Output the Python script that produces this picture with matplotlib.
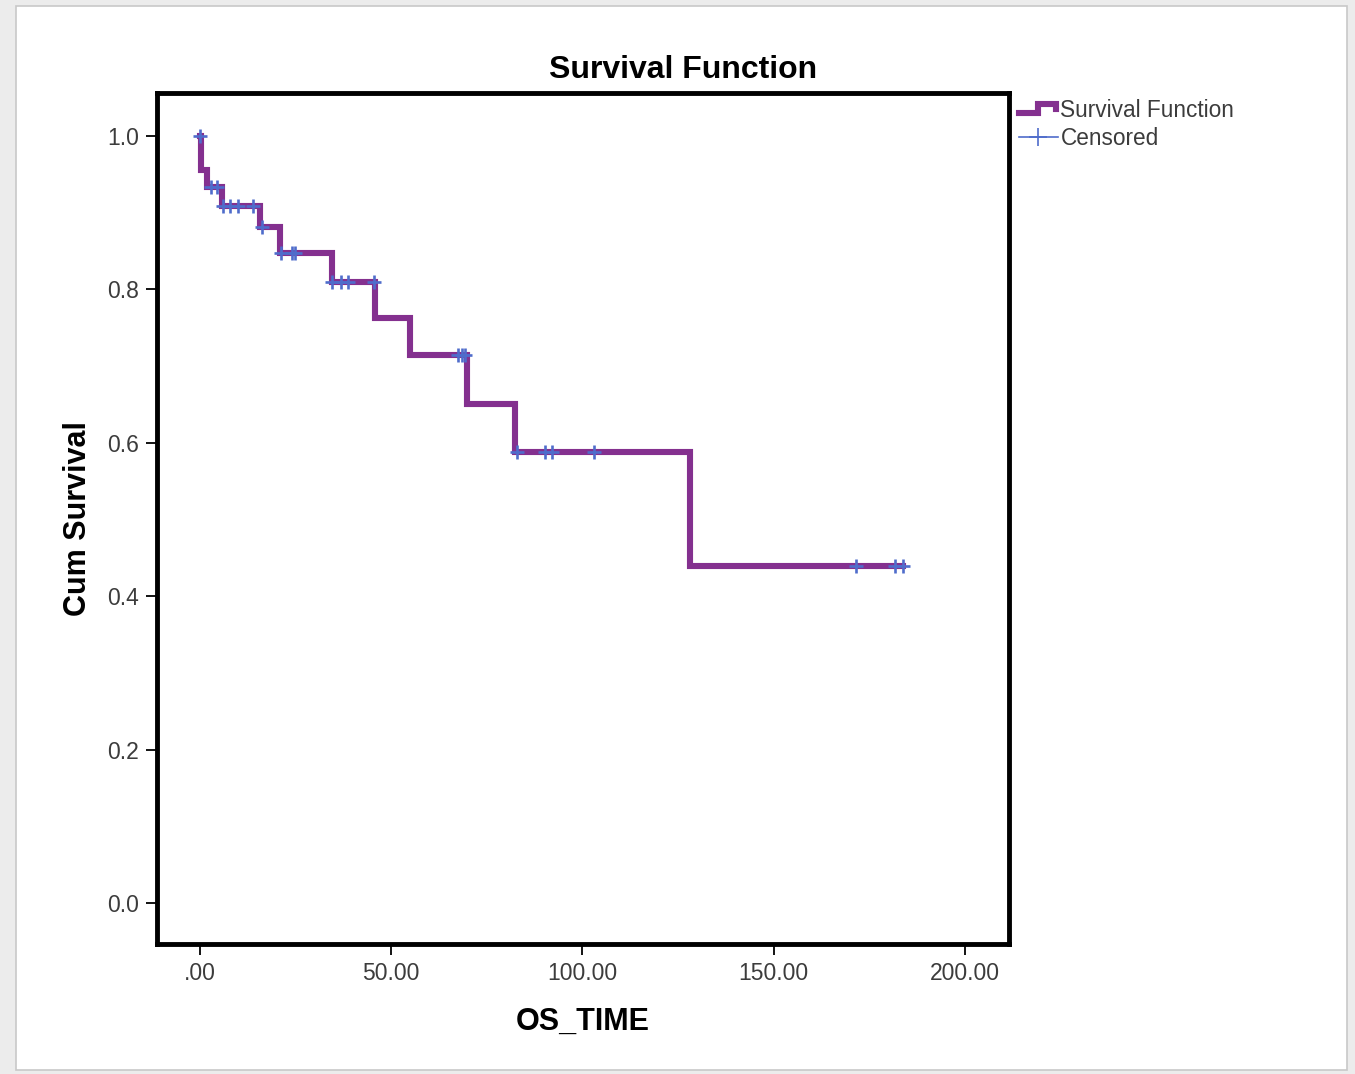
"""Kaplan-Meier survival curve for overall survival time (OS_TIME)."""

import matplotlib

matplotlib.use("Agg")

import matplotlib.pyplot as plt
import numpy as np
from matplotlib.legend_handler import HandlerBase
from matplotlib.lines import Line2D
from matplotlib.patches import Rectangle

plt.rcParams["font.family"] = ["Liberation Sans", "DejaVu Sans"]

# Event times and the cumulative survival just after each event
event_times = [0.4, 1.8, 5.8, 15.7, 21.0, 34.5, 45.8, 55.0, 69.8, 82.5, 128.2]
cum_survival = [0.955, 0.934, 0.909, 0.881, 0.847, 0.809, 0.763, 0.715, 0.651, 0.588, 0.439]
last_followup = 183.7

# Censored follow-up times
censored_times = [0.0, 3.0, 4.5, 6.0, 8.0, 10.0, 14.0, 16.3, 21.2, 24.0, 25.0,
                  34.5, 37.0, 38.7, 45.6, 67.5, 68.5, 69.3, 83.0, 90.3, 92.0,
                  103.0, 171.5, 181.7, 183.7]

x_ticks = [0, 50, 100, 150, 200]
x_tick_labels = [".00", "50.00", "100.00", "150.00", "200.00"]
y_ticks = [0.0, 0.2, 0.4, 0.6, 0.8, 1.0]

CURVE = "#84308f"
CENSOR = "#4f6ccb"
TEXT = "#3c3c3c"


class StepHandler(HandlerBase):
    # Legend icon drawn as a small step instead of a straight line
    def create_artists(self, legend, orig_handle, xdescent, ydescent,
                       width, height, fontsize, trans):
        xs = np.array([0.0, 0.5, 0.5, 0.95, 0.95]) * width - xdescent
        ys = np.array([0.2, 0.2, 0.8, 0.8, 0.5]) * height - ydescent
        line = Line2D(xs, ys, color=orig_handle.get_color(),
                      linewidth=orig_handle.get_linewidth(),
                      solid_joinstyle="miter", transform=trans)
        return [line]


def survival_at(t):
    idx = np.searchsorted(event_times, t, side="right")
    return 1.0 if idx == 0 else cum_survival[idx - 1]


fig = plt.figure(figsize=(13.55, 10.74), dpi=100, facecolor="#ececec")

# white viewer panel with a faint edge, kept behind the axes
fig.patches.append(Rectangle((16 / 1355, 4 / 1074), 1331 / 1355, 1064 / 1074,
                             transform=fig.transFigure, facecolor="white",
                             edgecolor="#c8c8c8", linewidth=1.2, zorder=-10))

ax = fig.add_axes([157 / 1355, 130 / 1074, 852 / 1355, 851 / 1074])
ax.set_facecolor("white")

step_x = [0.0] + event_times + [last_followup]
step_y = [1.0] + cum_survival + [cum_survival[-1]]
ax.step(step_x, step_y, where="post", color=CURVE, linewidth=4.4,
        solid_joinstyle="miter", zorder=2)

cens_y = [survival_at(t) for t in censored_times]
ax.plot(censored_times, cens_y, linestyle="none", marker="+", markersize=10,
        markeredgewidth=1.9, color=CENSOR, zorder=3)

ax.set_xlim(-11.2, 211.5)
ax.set_ylim(-0.0535, 1.056)
ax.set_xticks(x_ticks)
ax.set_xticklabels(x_tick_labels)
ax.set_yticks(y_ticks)
ax.set_yticklabels([f"{v:.1f}" for v in y_ticks])
ax.tick_params(direction="out", length=8, width=1.3, colors="black",
               labelcolor=TEXT, labelsize=16.5, pad=5)

for spine in ax.spines.values():
    spine.set_linewidth(3.5)
    spine.set_color("black")

ax.set_title("Survival Function", fontsize=23, fontweight="bold", pad=11,
             x=(683 - 157) / 852)
ax.set_xlabel("OS_TIME", fontsize=22, fontweight="bold", labelpad=16)
ax.set_ylabel("Cum Survival", fontsize=22, fontweight="bold", labelpad=10)

handles = [Line2D([], [], color=CURVE, linewidth=4.4),
           Line2D([], [], color=CENSOR, linewidth=1.2, marker="+",
                  markersize=13, markeredgewidth=1.2)]
leg = ax.legend(handles, ["Survival Function", "Censored"],
                handler_map={handles[0]: StepHandler()},
                loc="upper left", bbox_to_anchor=(1.0 + 5 / 852, 1.0 - 1 / 851),
                frameon=False, fontsize=16.3, handlelength=1.75,
                handletextpad=0.1, labelspacing=0.22, borderaxespad=0.1,
                borderpad=0.1)
for txt in leg.get_texts():
    txt.set_color(TEXT)

fig.savefig("out.png", dpi=100, facecolor=fig.get_facecolor())
